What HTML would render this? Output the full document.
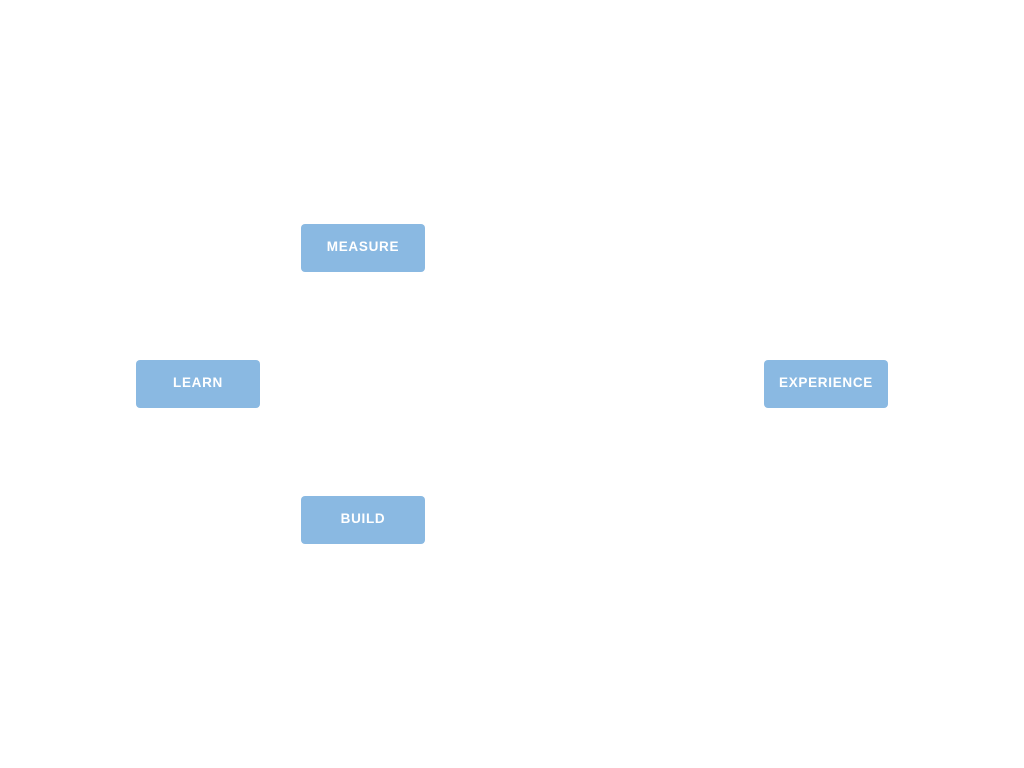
<!DOCTYPE html>
<html><head><style>
body{margin:0;width:1024px;height:768px;background:#fff;position:relative;overflow:hidden;font-family:"Liberation Sans",sans-serif}
.n{position:absolute;width:124px;height:48px;background:#8ab9e2;border-radius:4px;color:#fff;font-size:13.5px;font-weight:bold;letter-spacing:0.7px;display:flex;align-items:center;justify-content:center;box-sizing:border-box;padding-bottom:3px}
</style></head><body>
<div class="n" style="left:301px;top:224px">MEASURE</div>
<div class="n" style="left:136px;top:360px">LEARN</div>
<div class="n" style="left:764px;top:360px">EXPERIENCE</div>
<div class="n" style="left:301px;top:496px">BUILD</div>
</body></html>
